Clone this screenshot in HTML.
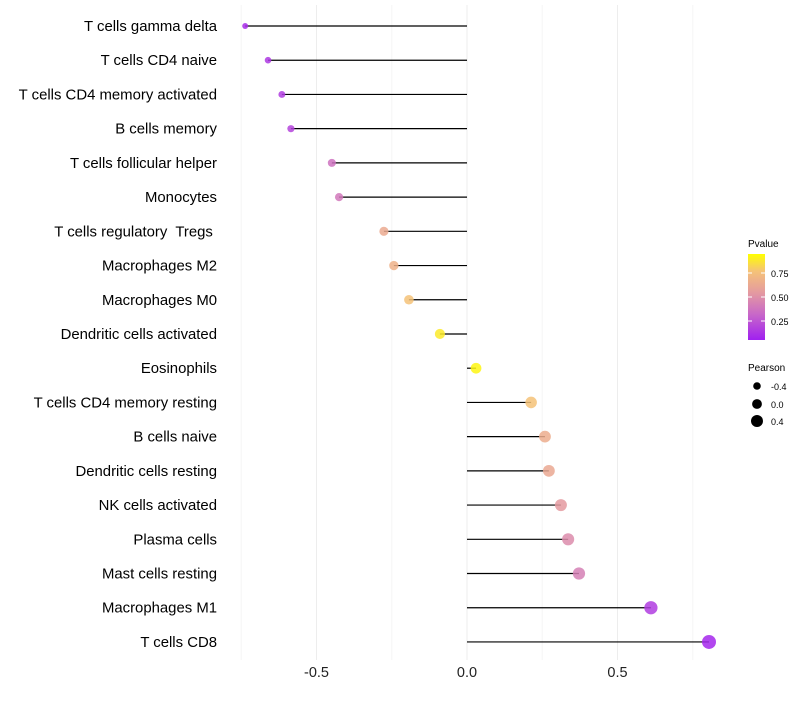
<!DOCTYPE html>
<html><head><meta charset="utf-8"><style>
body{margin:0;background:#fff;font-family:"Liberation Sans",sans-serif}
text{white-space:pre}
</style></head><body>
<svg id="chart" width="800" height="700" xmlns="http://www.w3.org/2000/svg">
<defs><linearGradient id="pg" x1="0" y1="1" x2="0" y2="0">
<stop offset="0" stop-color="#a020f0"/><stop offset="0.3" stop-color="#c868c8"/><stop offset="0.55" stop-color="#e49aa0"/><stop offset="0.8" stop-color="#f5c278"/><stop offset="1" stop-color="#ffff00"/></linearGradient></defs>
<g id="grid"></g>
<g id="marks"></g>
<g id="ylabels"></g>
<g id="xlabels"></g>
<g font-size="10">
<text x="748" y="247" fill="#000">Pvalue</text>
<rect x="748" y="254" width="17" height="86" fill="url(#pg)"/>
<line x1="748" y1="273" x2="752" y2="273" stroke="#fff"/><line x1="761" y1="273" x2="765" y2="273" stroke="#fff"/>
<line x1="748" y1="297" x2="752" y2="297" stroke="#fff"/><line x1="761" y1="297" x2="765" y2="297" stroke="#fff"/>
<line x1="748" y1="321" x2="752" y2="321" stroke="#fff"/><line x1="761" y1="321" x2="765" y2="321" stroke="#fff"/>
<text x="771" y="277" font-size="9">0.75</text><text x="771" y="301" font-size="9">0.50</text><text x="771" y="325" font-size="9">0.25</text>
</g>
<g>
<text x="748" y="371" font-size="10">Pearson</text>
<circle cx="757" cy="386" r="3.8" fill="#000"/><text x="771" y="390" font-size="9">-0.4</text>
<circle cx="757" cy="404" r="4.9" fill="#000"/><text x="771" y="408" font-size="9">0.0</text>
<circle cx="757" cy="421" r="6" fill="#000"/><text x="771" y="425" font-size="9">0.4</text>
</g>
</svg>
<script>
const categories=["T cells gamma delta","T cells CD4 naive","T cells CD4 memory activated","B cells memory","T cells follicular helper","Monocytes","T cells regulatory  Tregs ","Macrophages M2","Macrophages M0","Dendritic cells activated","Eosinophils","T cells CD4 memory resting","B cells naive","Dendritic cells resting","NK cells activated","Plasma cells","Mast cells resting","Macrophages M1","T cells CD8"];
const pearson=[-0.737,-0.661,-0.615,-0.585,-0.449,-0.425,-0.276,-0.243,-0.193,-0.090,0.030,0.213,0.259,0.272,0.312,0.336,0.372,0.611,0.804];
const pvalue=[0.05,0.1,0.12,0.15,0.35,0.38,0.65,0.7,0.8,0.93,0.97,0.8,0.67,0.64,0.55,0.48,0.42,0.12,0.03];
const xTicks=[-0.5,0,0.5];
const xTickLabels=["-0.5","0.0","0.5"];
const minorTicks=[-0.75,-0.25,0.25,0.75];
const NS="http://www.w3.org/2000/svg";
function xs(v){return 467+v*301;}
function ys(i){return 26+i*34.22;}
function rs(v){return Math.max(2,Math.sqrt(Math.max(4,28+26*v)));}
function lerp(a,b,t){return a+(b-a)*t;}
const stops=[[0,[160,32,240]],[0.3,[200,104,200]],[0.55,[228,154,160]],[0.8,[245,194,120]],[1,[255,255,0]]];
function col(p){for(let i=0;i<stops.length-1;i++){const[a,ca]=stops[i],[b,cb]=stops[i+1];if(p<=b){const t=(p-a)/(b-a);return`rgb(${ca.map((c,k)=>Math.round(lerp(c,cb[k],t))).join(",")})`;}}return"rgb(255,255,0)";}
function mk(t,a,p){const e=document.createElementNS(NS,t);for(const k in a)e.setAttribute(k,a[k]);p.appendChild(e);return e;}
const grid=document.getElementById("grid"),marks=document.getElementById("marks"),yl=document.getElementById("ylabels"),xl=document.getElementById("xlabels");
minorTicks.concat(xTicks).forEach(v=>{const l=mk("line",{x1:xs(v),x2:xs(v),y1:5,y2:660,stroke:minorTicks.includes(v)?"#f5f5f5":"#ededed","stroke-width":1},grid);

});
xTicks.forEach((v,i)=>{const t=mk("text",{x:xs(v),y:677,"text-anchor":"middle","font-size":14.5,fill:"#222"},xl);t.textContent=xTickLabels[i];

});
categories.forEach((c,i)=>{const y=ys(i);
const t=mk("text",{x:217,y:y+5,"text-anchor":"end","font-size":14.9,fill:"#000"},yl);t.textContent=c;


const l=mk("line",{x1:xs(0),x2:xs(pearson[i]),y1:y,y2:y,stroke:"#000","stroke-width":1.2},marks);


const ci=mk("circle",{cx:xs(pearson[i]),cy:y,r:rs(pearson[i]),fill:col(pvalue[i]),"fill-opacity":0.85},marks);

});
</script>
</body></html>
